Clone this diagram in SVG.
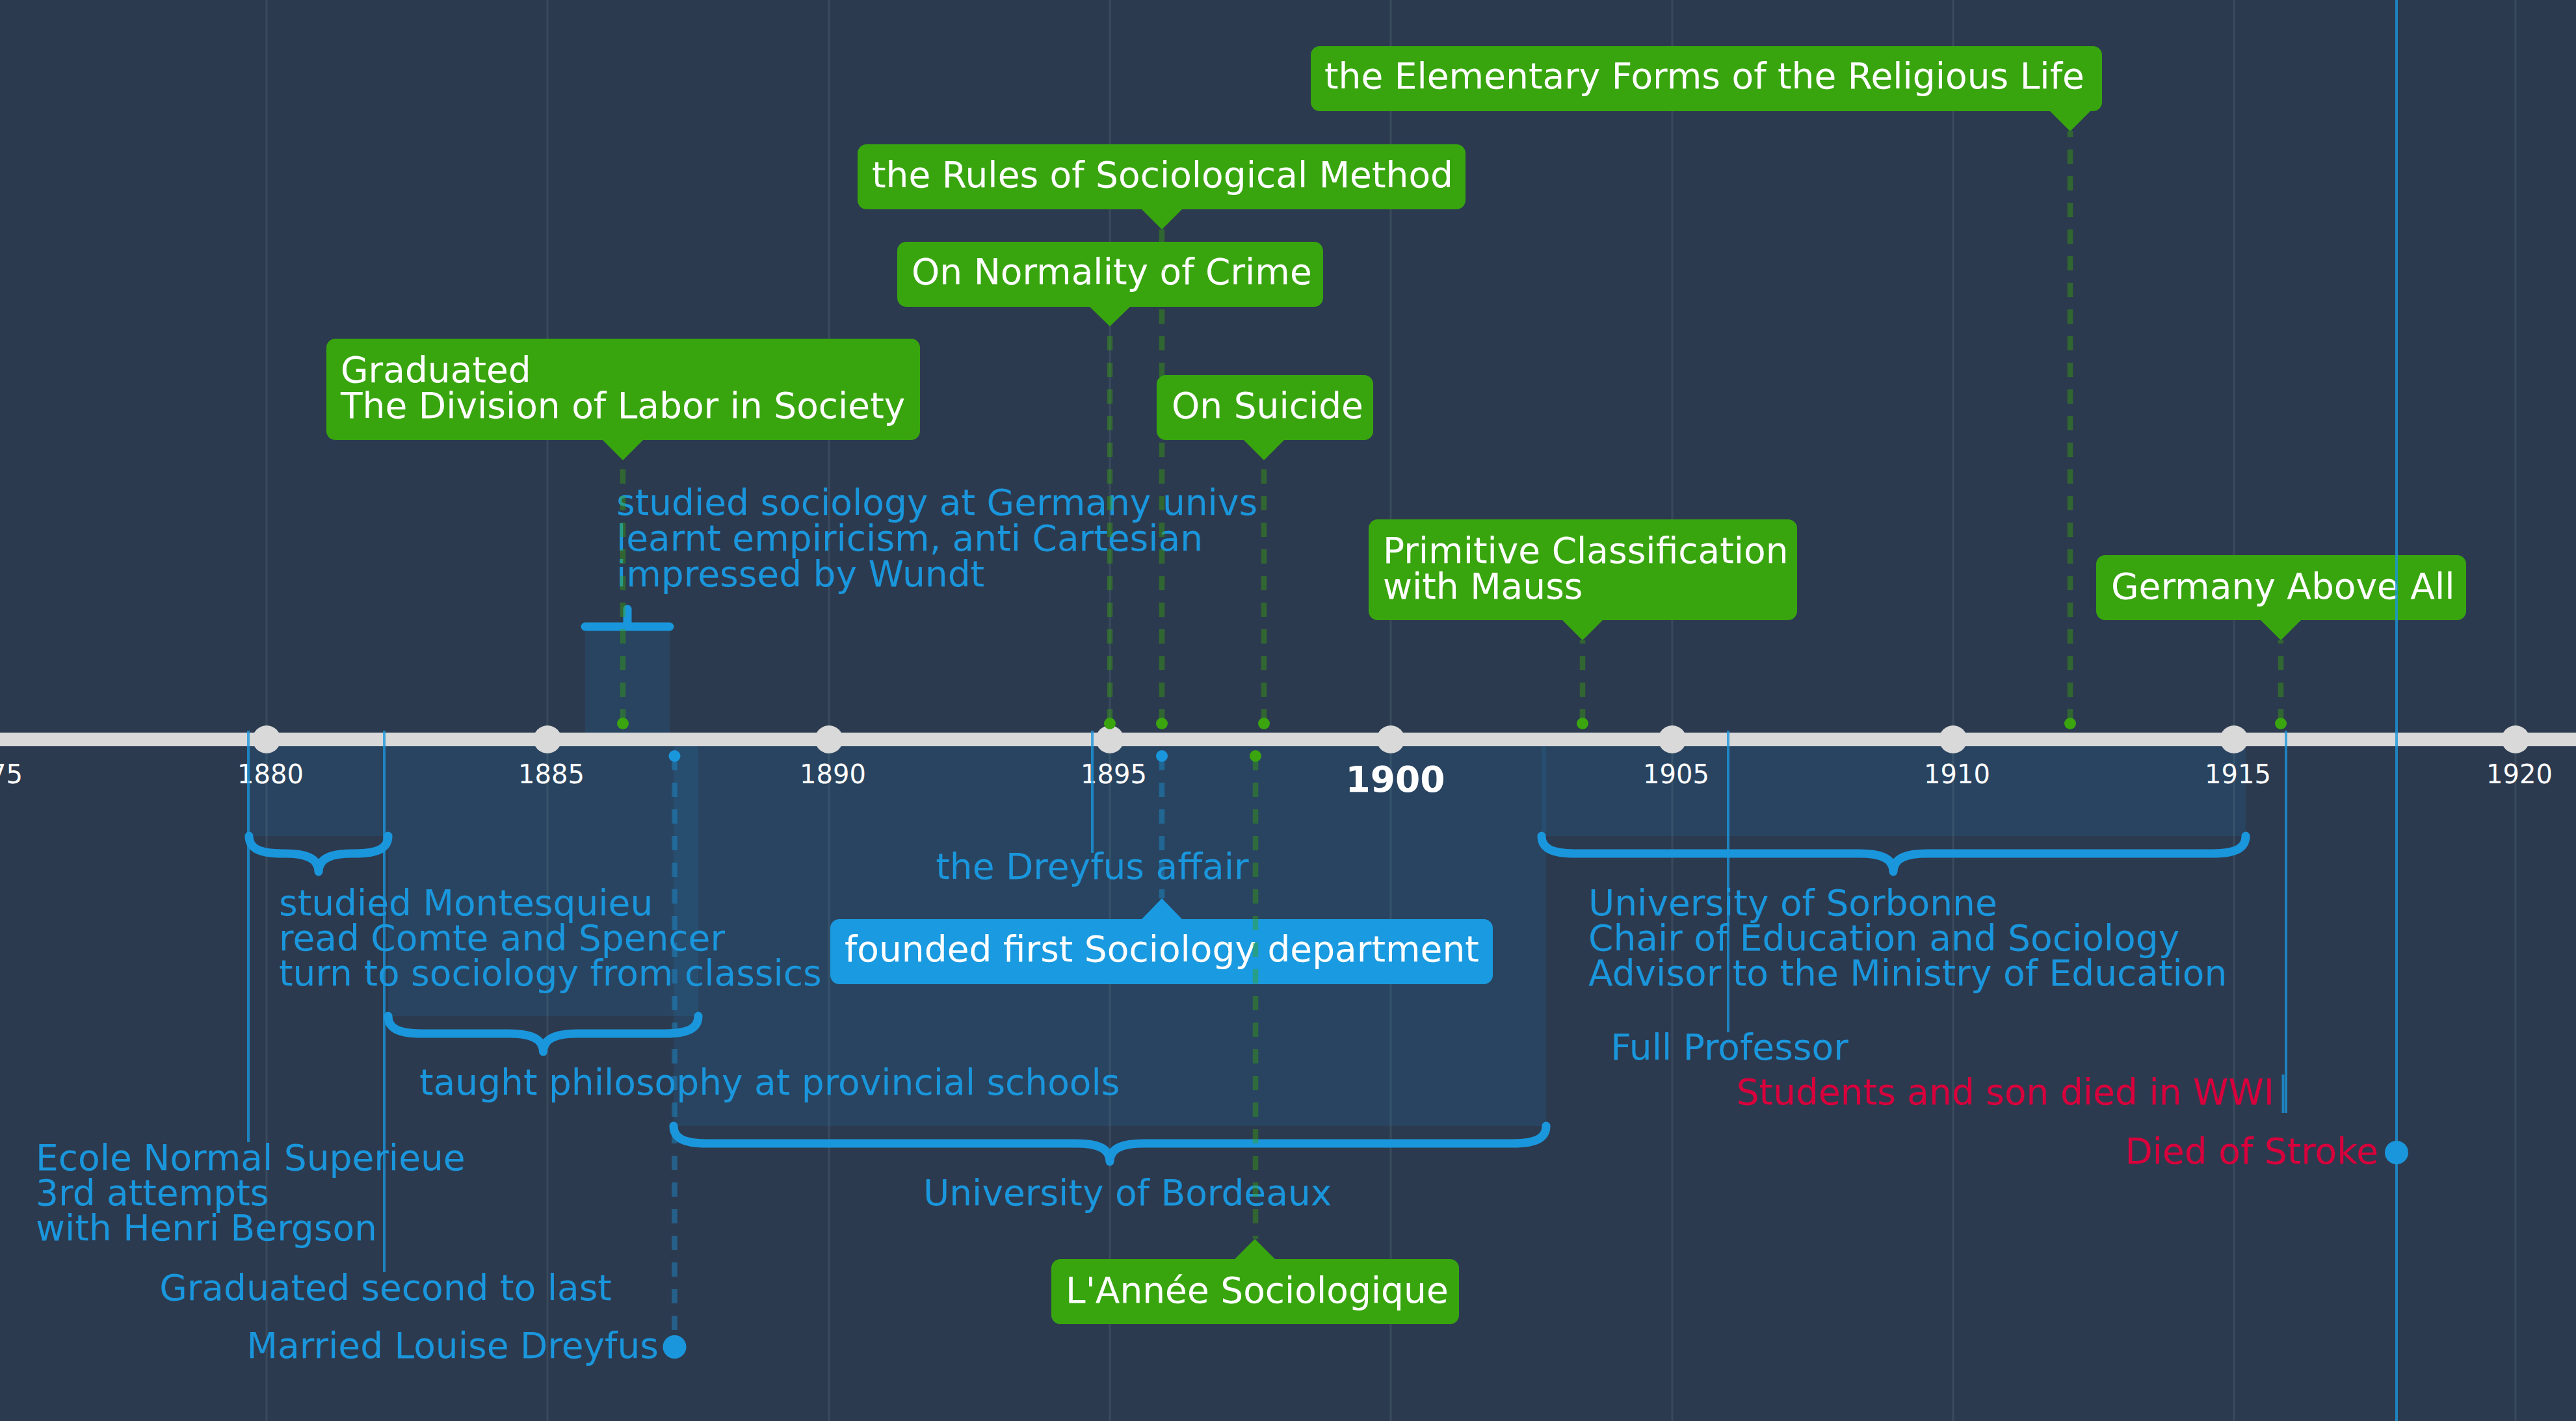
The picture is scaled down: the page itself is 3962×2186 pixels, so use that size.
<svg xmlns="http://www.w3.org/2000/svg" width="3962" height="2186" viewBox="0 0 3962 2186">
<style>
.t{font-family:"DejaVu Sans","Liberation Sans",sans-serif;font-size:55px}
.w{fill:#ffffff}
.b{fill:#1a96dc}
.r{fill:#d8003c}
.tk{font-family:"DejaVu Sans","Liberation Sans",sans-serif;font-size:40px;fill:#ffffff;text-anchor:middle}
.grid{stroke:#394a5c;stroke-width:3}
.shade{fill:#1a96dc;fill-opacity:0.12}
.brace{fill:none;stroke:#1a96dc;stroke-width:13;stroke-linecap:round;stroke-linejoin:round}
.gbox{fill:#38a50e}
.bbox{fill:#1a9ae0}
.gdash{stroke:#3aa50f;stroke-opacity:0.42;stroke-width:8.5;stroke-dasharray:22 19;fill:none}
.bdash{stroke:#1a96dc;stroke-opacity:0.42;stroke-width:8.5;stroke-dasharray:22 19;fill:none}
.ev{stroke:#1a96dc;stroke-opacity:0.8;stroke-width:4;fill:none}
.gdot{fill:#3aa50f}
.bdot{fill:#1a96dc}
</style>
<rect x="0" y="0" width="3962" height="2186" fill="#2c3a4f"/>
<g id="grid">
<line class="grid" x1="-22" y1="0" x2="-22" y2="2186"/>
<line class="grid" x1="410" y1="0" x2="410" y2="2186"/>
<line class="grid" x1="842" y1="0" x2="842" y2="2186"/>
<line class="grid" x1="1275" y1="0" x2="1275" y2="2186"/>
<line class="grid" x1="1707" y1="0" x2="1707" y2="2186"/>
<line class="grid" x1="2139" y1="0" x2="2139" y2="2186"/>
<line class="grid" x1="2572" y1="0" x2="2572" y2="2186"/>
<line class="grid" x1="3004" y1="0" x2="3004" y2="2186"/>
<line class="grid" x1="3436" y1="0" x2="3436" y2="2186"/>
<line class="grid" x1="3869" y1="0" x2="3869" y2="2186"/>
</g>
<g id="ranges">
<rect class="shade" x="383" y="1137" width="214" height="149"/>
<rect class="shade" x="597" y="1137" width="477" height="426"/>
<rect class="shade" x="900" y="964" width="130" height="173"/>
<rect class="shade" x="1036" y="1137" width="1342" height="595"/>
<rect class="shade" x="2371" y="1137" width="1083" height="149"/>
<path id="brace-ens" class="brace" d="M383,1286 C383,1304 397,1313 434,1313 L438,1313 C468,1313 490,1319 490,1341 C490,1319 512,1313 542,1313 L546,1313 C583,1313 597,1304 597,1286"/>
<path id="brace-teach" class="brace" d="M597,1563 C597,1581 611,1590 648,1590 L783,1590 C813,1590 835.5,1596 835.5,1618 C835.5,1596 858,1590 888,1590 L1023,1590 C1060,1590 1074,1581 1074,1563"/>
<path id="brace-germany" class="brace" d="M900,964 L1030,964 M965,964 L965,937"/>
<path id="brace-bordeaux" class="brace" d="M1036,1732 C1036,1750 1050,1759 1087,1759 L1655,1759 C1685,1759 1707,1765 1707,1787 C1707,1765 1729,1759 1759,1759 L2327,1759 C2364,1759 2378,1750 2378,1732"/>
<path id="brace-sorbonne" class="brace" d="M2371,1286 C2371,1304 2385,1313 2422,1313 L2860,1313 C2890,1313 2912,1319 2912,1341 C2912,1319 2934,1313 2964,1313 L3403,1313 C3440,1313 3454,1304 3454,1286"/>
</g>
<g id="axis">
<line x1="0" y1="1137.5" x2="3962" y2="1137.5" stroke="#d9d9d9" stroke-width="21"/>
<g fill="#d9d9d9">
<circle cx="-22" cy="1137.5" r="21.5"/>
<circle cx="410" cy="1137.5" r="21.5"/>
<circle cx="842" cy="1137.5" r="21.5"/>
<circle cx="1275" cy="1137.5" r="21.5"/>
<circle cx="1707" cy="1137.5" r="21.5"/>
<circle cx="2139" cy="1137.5" r="21.5"/>
<circle cx="2572" cy="1137.5" r="21.5"/>
<circle cx="3004" cy="1137.5" r="21.5"/>
<circle cx="3436" cy="1137.5" r="21.5"/>
<circle cx="3869" cy="1137.5" r="21.5"/>
</g>
<text class="tk" x="-16" y="1205">1875</text>
<text class="tk" x="416" y="1205">1880</text>
<text class="tk" x="848" y="1205">1885</text>
<text class="tk" x="1281" y="1205">1890</text>
<text class="tk" x="1713" y="1205">1895</text>
<text class="tk" x="2146" y="1218" style="font-size:55px;font-weight:bold">1900</text>
<text class="tk" x="2578" y="1205">1905</text>
<text class="tk" x="3010" y="1205">1910</text>
<text class="tk" x="3442" y="1205">1915</text>
<text class="tk" x="3875" y="1205">1920</text>
</g>
<g id="node-graduated">
<rect class="gbox" x="502" y="521" width="913" height="156" rx="14"/>
<polygon class="gbox" points="926,676 990,676 958,708"/>
<text class="t w" x="524" y="588">Graduated</text>
<text class="t w" x="524" y="643">The Division of Labor in Society</text>
</g>
<g id="node-suicide">
<rect class="gbox" x="1779" y="577" width="333" height="100" rx="14"/>
<polygon class="gbox" points="1912,676 1976,676 1944,708"/>
<text class="t w" x="1802" y="643">On Suicide</text>
</g>
<g id="node-crime">
<rect class="gbox" x="1380" y="372" width="655" height="100" rx="14"/>
<polygon class="gbox" points="1675,471 1739,471 1707,502"/>
<text class="t w" x="1402" y="437">On Normality of Crime</text>
</g>
<g id="node-rules">
<rect class="gbox" x="1319" y="222" width="935" height="100" rx="14"/>
<polygon class="gbox" points="1755,321 1819,321 1787,353"/>
<text class="t w" x="1341" y="288">the Rules of Sociological Method</text>
</g>
<g id="node-elementary">
<rect class="gbox" x="2016" y="71" width="1217" height="100" rx="14"/>
<polygon class="gbox" points="3152,170 3216,170 3184,202"/>
<text class="t w" x="2037" y="136">the Elementary Forms of the Religious Life</text>
</g>
<g id="node-primitive">
<rect class="gbox" x="2105" y="799" width="659" height="155" rx="14"/>
<polygon class="gbox" points="2402,953 2466,953 2434,985"/>
<text class="t w" x="2127" y="866">Primitive Classification</text>
<text class="t w" x="2127" y="921">with Mauss</text>
</g>
<g id="node-germany">
<rect class="gbox" x="3224" y="854" width="569" height="100" rx="14"/>
<polygon class="gbox" points="3476,953 3540,953 3508,985"/>
<text class="t w" x="3247" y="921">Germany Above All</text>
</g>
<g id="node-annee">
<rect class="gbox" x="1617" y="1937" width="627" height="100" rx="14"/>
<polygon class="gbox" points="1898,1938 1962,1938 1930,1906"/>
<text class="t w" x="1639" y="2004">L'Année Sociologique</text>
</g>
<g id="node-department">
<rect class="bbox" x="1277" y="1414" width="1019" height="100" rx="14"/>
<polygon class="bbox" points="1755,1415 1819,1415 1787,1382"/>
<text class="t w" x="1299" y="1479">founded first Sociology department</text>
</g>
<g id="node-germany-study">
<text class="t b" x="948" y="791.5">studied sociology at Germany univs</text>
<text class="t b" x="948" y="846.5">learnt empiricism, anti Cartesian</text>
<text class="t b" x="948" y="901.5">impressed by Wundt</text>
</g>
<g id="node-ens-study">
<text class="t b" x="429" y="1408">studied Montesquieu</text>
<text class="t b" x="429" y="1462">read Comte and Spencer</text>
<text class="t b" x="429" y="1516">turn to sociology from classics</text>
</g>
<g id="node-teach">
<text class="t b" x="645" y="1684">taught philosophy at provincial schools</text>
</g>
<g id="node-ens">
<text class="t b" x="55" y="1800">Ecole Normal Superieue</text>
<text class="t b" x="55" y="1854">3rd attempts</text>
<text class="t b" x="55" y="1908">with Henri Bergson</text>
</g>
<g id="node-graduated-last">
<text class="t b" x="593" y="2000" text-anchor="middle">Graduated second to last</text>
</g>
<g id="node-married">
<text class="t b" x="1013" y="2089" text-anchor="end">Married Louise Dreyfus</text>
</g>
<g id="node-dreyfus">
<text class="t b" x="1680" y="1352" text-anchor="middle">the Dreyfus affair</text>
</g>
<g id="node-bordeaux">
<text class="t b" x="1420" y="1854">University of Bordeaux</text>
</g>
<g id="node-sorbonne">
<text class="t b" x="2443" y="1408">University of Sorbonne</text>
<text class="t b" x="2443" y="1462">Chair of Education and Sociology</text>
<text class="t b" x="2443" y="1516">Advisor to the Ministry of Education</text>
</g>
<g id="node-professor">
<text class="t b" x="2660" y="1630" text-anchor="middle">Full Professor</text>
</g>
<g id="node-wwi">
<text class="t r" x="3498" y="1699" text-anchor="end">Students and son died in WWI</text>
</g>
<g id="node-death">
<text class="t r" x="3658" y="1790" text-anchor="end">Died of Stroke</text>
</g>
<g id="connectors">
<line class="ev" x1="382" y1="1124" x2="382" y2="1757"/>
<line class="ev" x1="591" y1="1124" x2="591" y2="1957"/>
<line class="ev" x1="1680" y1="1124" x2="1680" y2="1312"/>
<line class="ev" x1="2658" y1="1124" x2="2658" y2="1588"/>
<line class="ev" x1="3516" y1="1124" x2="3516" y2="1712"/>
<line class="ev" x1="3511.5" y1="1653" x2="3511.5" y2="1712" stroke-width="5"/>
<line class="ev" x1="3686" y1="0" x2="3686" y2="2186"/>
<path class="gdash" d="M958,1113 L958,708"/>
<path class="gdash" d="M1707,1113 L1707,502"/>
<path class="gdash" d="M1787,1113 L1787,353"/>
<path class="gdash" d="M1944,1113 L1944,708"/>
<path class="gdash" d="M2434,1113 L2434,985"/>
<path class="gdash" d="M3184,1113 L3184,202"/>
<path class="gdash" d="M3508,1113 L3508,985"/>
<path class="gdash" d="M1931,1163 L1931,1906"/>
<path class="bdash" d="M1787,1163 L1787,1382"/>
<path class="bdash" d="M1037.5,1163 L1037.5,2072"/>
<circle class="gdot" cx="958" cy="1113" r="9"/>
<circle class="gdot" cx="1707" cy="1113" r="9"/>
<circle class="gdot" cx="1787" cy="1113" r="9"/>
<circle class="gdot" cx="1944" cy="1113" r="9"/>
<circle class="gdot" cx="2434" cy="1113" r="9"/>
<circle class="gdot" cx="3184" cy="1113" r="9"/>
<circle class="gdot" cx="3508" cy="1113" r="9"/>
<circle class="gdot" cx="1931" cy="1163" r="9"/>
<circle class="bdot" cx="1787" cy="1163" r="9"/>
<circle class="bdot" cx="1037.5" cy="1163" r="9"/>
<circle class="bdot" cx="1037.5" cy="2072" r="18"/>
<circle class="bdot" cx="3686" cy="1773" r="18"/>
</g>
</svg>
